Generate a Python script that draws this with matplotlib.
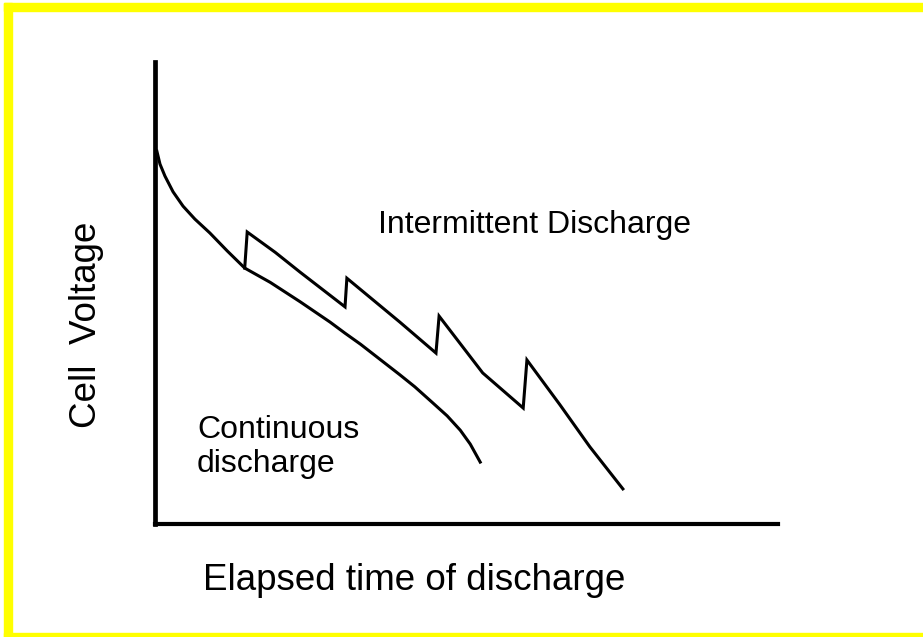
import matplotlib
matplotlib.use("Agg")
import matplotlib.pyplot as plt
from matplotlib.patches import Rectangle

plt.rcParams['font.family'] = ['Liberation Sans', 'DejaVu Sans']

# continuous discharge: elapsed time vs cell voltage (arbitrary units)
cont_t = [0.3, 0.8, 1.6, 2.9, 4.5, 6.4, 8.8, 11.6, 14.4, 18.5, 23.3, 28.1, 30.5,
          33.0, 39.3, 41.7, 44.6, 46.9, 49.0, 50.6, 52.2]
cont_v = [80.7, 77.9, 75.3, 71.9, 68.8, 66.0, 63.0, 59.1, 55.4, 52.3, 48.1, 43.7, 41.3,
          38.9, 32.3, 29.7, 26.2, 23.4, 20.3, 17.3, 13.4]

# intermittent discharge (recovers during each rest)
int_t = [14.4, 14.8, 19.3, 23.3, 30.5, 30.8, 39.3, 45.1, 45.6, 52.6, 59.1, 59.7,
         65.0, 69.8, 75.1]
int_v = [55.4, 63.2, 58.8, 54.5, 47.0, 53.2, 43.7, 37.0, 45.0, 32.7, 25.1, 35.5,
         25.8, 16.7, 7.6]

W, H = 923, 637
fig = plt.figure(figsize=(W / 100, H / 100), dpi=100)

# yellow frame (no right edge)
yellow = '#ffff00'
fig.patches.append(Rectangle((4 / W, (H - 11) / H), 1 - 4 / W, 8 / H,
                             transform=fig.transFigure, color=yellow, zorder=0))
fig.patches.append(Rectangle((4 / W, 0), 8 / W, (H - 3) / H,
                             transform=fig.transFigure, color=yellow, zorder=0))
fig.patches.append(Rectangle((4 / W, 0), 1 - 4 / W, 4 / H,
                             transform=fig.transFigure, color=yellow, zorder=0))

ax = fig.add_axes([155 / W, (H - 524) / H, 623 / W, 462 / H])
ax.set_facecolor('none')
ax.plot(cont_t, cont_v, color='black', linewidth=2.2, solid_joinstyle='round')
ax.plot(int_t, int_v, color='black', linewidth=2.2, solid_joinstyle='miter')
ax.set_xlim(0, 100)
ax.set_ylim(0, 100)
ax.spines['top'].set_visible(False)
ax.spines['right'].set_visible(False)
ax.spines['left'].set_linewidth(3.4)
ax.spines['bottom'].set_linewidth(3.0)
ax.set_xticks([])
ax.set_yticks([])

fig.text(378 / W, (H - 225) / H, 'Intermittent Discharge', fontsize=23,
         ha='left', va='center')
fig.text(197 / W, (H - 447) / H, 'Continuous\ndischarge', fontsize=23,
         ha='left', va='center')
fig.text(203 / W, (H - 580) / H, 'Elapsed time of discharge', fontsize=26.5,
         ha='left', va='center')
fig.text(87 / W, (H - 325) / H, 'Cell  Voltage', fontsize=26.5,
         rotation=90, ha='center', va='center')

fig.savefig('out.png', dpi=100, facecolor='white')
